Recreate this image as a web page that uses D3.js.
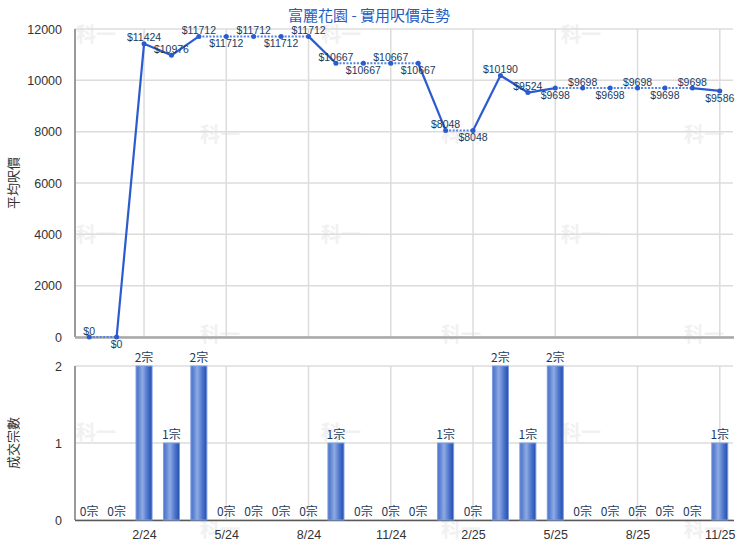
<!DOCTYPE html>
<html><head><meta charset="utf-8">
<script src="https://cdn.jsdelivr.net/npm/d3@7/dist/d3.min.js"></script>
<style>
html,body{margin:0;padding:0;background:#fff;}
svg{display:block;font-family:"Liberation Sans",Arial,"Noto Sans CJK TC",sans-serif;}
</style></head>
<body>
<svg id="chart" width="740" height="550"></svg>
<script>
const title = "富麗花園 - 實用呎價走勢";
const months = ["12/23","1/24","2/24","3/24","4/24","5/24","6/24","7/24","8/24","9/24","10/24","11/24",
                "12/24","1/25","2/25","3/25","4/25","5/25","6/25","7/25","8/25","9/25","10/25","11/25"];
const avgPrice = [0,0,11424,10976,11712,11712,11712,11712,11712,10667,10667,10667,
                  10667,8048,8048,10190,9524,9698,9698,9698,9698,9698,9698,9586];
const dealCount = [0,0,2,1,2,0,0,0,0,1,0,0,0,1,0,2,1,2,0,0,0,0,0,1];
const tickLabels = ["2/24","5/24","8/24","11/24","2/25","5/25","8/25","11/25"];
const priceTicks = [0,2000,4000,6000,8000,10000,12000];
const countTicks = [0,1,2];
const priceAxisTitle = "平均呎價";
const countAxisTitle = "成交宗數";
const watermark = "科一";

const svg = d3.select("#chart");
const L = 75, R = 733;
const top1 = 29, bot1 = 337, top2 = 366, bot2 = 520;
const cjk = '"Noto Sans CJK TC","Liberation Sans",Arial,sans-serif';

const x = d3.scaleBand().domain(months).range([L+0.5, R+0.5]).padding(0);
const cx = m => x(m) + x.bandwidth()/2;
const y1 = d3.scaleLinear().domain([0,12000]).range([bot1, top1]);
const y2 = d3.scaleLinear().domain([0,2]).range([bot2, top2]);

// defs: bar gradient
const defs = svg.append("defs");
const g = defs.append("linearGradient").attr("id","barGrad").attr("x1","0").attr("x2","1").attr("y1","0").attr("y2","0");
[[0,"#4d73cb"],[0.15,"#5d82d2"],[0.4,"#8eabe4"],[0.7,"#5177cc"],[1,"#1f4eaf"]]
  .forEach(([o,c]) => g.append("stop").attr("offset",o).attr("stop-color",c));

// watermarks
const wmRows = [35,135,235,335,433,530];
const wmColsA = [96,341,581], wmColsB = [220,461,704];
wmRows.forEach((wy,ri) => {
  (ri%2===0 ? wmColsA : wmColsB).forEach(wx => {
    svg.append("text").attr("x",wx).attr("y",wy+7).attr("text-anchor","middle")
      .style("font-family",cjk).style("font-size","20px").style("font-weight","bold")
      .attr("fill","#f1f1f1").text(watermark);
  });
});

// title
svg.append("text").attr("x",369).attr("y",21).attr("text-anchor","middle")
  .style("font-family",cjk).style("font-size","15px").attr("fill","#1f5cc4").text(title);

// gridlines
const tickMonths = months.filter(m => tickLabels.includes(m));
const grid = svg.append("g").attr("stroke","#dcdcdc").attr("stroke-width",1.5);
priceTicks.forEach(t => grid.append("line").attr("x1",L).attr("x2",R).attr("y1",y1(t)).attr("y2",y1(t)));
countTicks.forEach(t => grid.append("line").attr("x1",L).attr("x2",R).attr("y1",y2(t)).attr("y2",y2(t)));
tickMonths.forEach(m => {
  grid.append("line").attr("x1",cx(m)).attr("x2",cx(m)).attr("y1",top1).attr("y2",bot1);
  grid.append("line").attr("x1",cx(m)).attr("x2",cx(m)).attr("y1",top2).attr("y2",bot2);
});

// y axes
const ax1 = svg.append("g").attr("transform",`translate(${L},0)`)
  .call(d3.axisLeft(y1).tickValues(priceTicks).tickSize(0).tickPadding(13).tickFormat(d3.format("d")));
const ax2 = svg.append("g").attr("transform",`translate(${L},0)`)
  .call(d3.axisLeft(y2).tickValues(countTicks).tickSize(0).tickPadding(13).tickFormat(d3.format("d")));
[ax1,ax2].forEach(a => {
  a.select(".domain").remove();
  a.selectAll("text").attr("fill","#333").style("font-size","12.5px").style("font-family",'"Liberation Sans",Arial,sans-serif');
});
svg.append("line").attr("x1",L).attr("x2",L).attr("y1",top1).attr("y2",bot1).attr("stroke","#9a9a9a").attr("stroke-width",2);
svg.append("line").attr("x1",L).attr("x2",L).attr("y1",top2).attr("y2",bot2).attr("stroke","#9a9a9a").attr("stroke-width",2);

// x axis (bottom)
const axX = svg.append("g").attr("transform",`translate(0,${bot2})`)
  .call(d3.axisBottom(d3.scalePoint().domain(months).range([cx(months[0]), cx(months[months.length-1])]))
    .tickValues(tickMonths).tickSize(0).tickPadding(10));
axX.select(".domain").remove();
axX.selectAll("text").attr("fill","#333").style("font-size","12.5px").style("font-family",'"Liberation Sans",Arial,sans-serif');

// axis baselines
svg.append("line").attr("x1",L).attr("x2",R+1).attr("y1",bot1+0.5).attr("y2",bot1+0.5).attr("stroke","#a8a8a8").attr("stroke-width",2.5);
svg.append("line").attr("x1",L).attr("x2",R+1).attr("y1",bot2+0.5).attr("y2",bot2+0.5).attr("stroke","#5a5a5a").attr("stroke-width",1.5);

// axis titles
[[priceAxisTitle,(top1+bot1)/2],[countAxisTitle,(top2+bot2)/2]].forEach(([t,cy]) => {
  svg.append("text").attr("transform",`translate(18,${cy}) rotate(-90)`).attr("text-anchor","middle")
    .style("font-family",cjk).style("font-size","13px").attr("fill","#333").text(t);
});

// bars
const bw = 16;
svg.append("g").selectAll("rect").data(months.map((m,i)=>({m,c:dealCount[i]})).filter(d=>d.c>0))
  .join("rect")
  .attr("x",d=>cx(d.m)-bw/2).attr("width",bw)
  .attr("y",d=>y2(d.c)).attr("height",d=>bot2-y2(d.c))
  .attr("fill","url(#barGrad)").attr("stroke","#7d9be0").attr("stroke-width",1);

// bar labels
svg.append("g").selectAll("text").data(months.map((m,i)=>({m,c:dealCount[i]})))
  .join("text")
  .attr("x",d=>cx(d.m)).attr("y",d=>y2(d.c)-4).attr("text-anchor","middle")
  .style("font-family",cjk).style("font-size","12px").attr("fill","#1b3a5e")
  .text(d=>d.c+"宗");

// price line segments
const pts = months.map((m,i)=>({m,v:avgPrice[i],c:dealCount[i],i}));
const segs = svg.append("g").attr("fill","none");
for (let i=1;i<pts.length;i++){
  const a=pts[i-1], b=pts[i];
  const dotted = b.c===0;
  segs.append("line").attr("x1",cx(a.m)).attr("y1",y1(a.v)).attr("x2",cx(b.m)).attr("y2",y1(b.v))
    .attr("stroke", dotted ? "#5585e2" : "#2a5ccf")
    .attr("stroke-width", dotted ? 2 : 2.2)
    .attr("stroke-dasharray", dotted ? "2,1.5" : null);
}
svg.append("g").selectAll("circle").data(pts).join("circle")
  .attr("cx",d=>cx(d.m)).attr("cy",d=>y1(d.v)).attr("r",2.5).attr("fill","#2a5ccf");

// price labels (placement: below for these point indices, above otherwise)
const labelBelow = new Set([1,5,7,10,12,14,17,19,21,23]);
svg.append("g").selectAll("text").data(pts).join("text")
  .attr("x",d=>cx(d.m))
  .attr("y",d=>labelBelow.has(d.i) ? y1(d.v)+11 : y1(d.v)-2.5)
  .attr("text-anchor","middle")
  .style("font-family",'"Liberation Sans",Arial,sans-serif').style("font-size","10.5px")
  .attr("fill","#1b3a5e")
  .text(d=>"$"+d.v);
</script>
</body></html>
